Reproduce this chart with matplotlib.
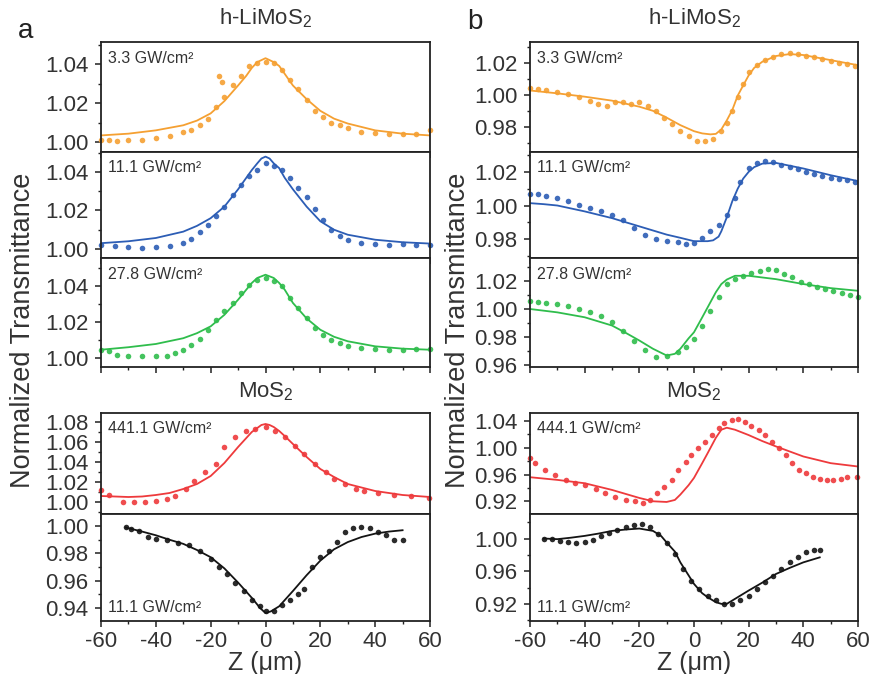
import matplotlib
matplotlib.use("Agg")
import matplotlib.pyplot as plt
from matplotlib.ticker import MultipleLocator, FormatStrFormatter

plt.rcParams['font.family'] = ['Liberation Sans', 'DejaVu Sans']
plt.rcParams['mathtext.fontset'] = 'custom'
plt.rcParams['mathtext.rm'] = 'Liberation Sans'
plt.rcParams['mathtext.default'] = 'regular'
plt.rcParams['axes.unicode_minus'] = False

ORANGE = '#f5a032'
BLUE = '#2c5db5'
GREEN = '#2fbd4c'
RED = '#ee3a3c'
BLACK = '#141414'
TXT = '#333333'

# ---- column a: symmetric (peak / valley) traces ----
a1_z = [-60, -57, -54, -50, -45, -40, -35, -30, -27, -24, -21, -18, -17, -16, -15, -12, -9, -6, -3, 0,
        3, 6, 9, 12, 15, 18, 21, 24, 27, 30, 35, 40, 45, 50, 55, 60]
a1_t = [1.0009, 1.0009, 1.0004, 1.001, 1.0012, 1.002, 1.003, 1.005, 1.006, 1.0086, 1.012, 1.018, 1.034, 1.031,
        1.023, 1.029, 1.034, 1.039, 1.0405, 1.041, 1.0405, 1.037, 1.032, 1.027, 1.0216, 1.016, 1.013, 1.010,
        1.0086, 1.007, 1.005, 1.0047, 1.004, 1.004, 1.004, 1.006]
a1_fz = [-60, -50, -40, -30, -25, -20, -15, -10, -7, -5, -3, 0, 3, 5, 7, 10, 15, 20, 25, 30, 40, 50, 60]
a1_ft = [1.0034, 1.0043, 1.006, 1.0086, 1.011, 1.0147, 1.021, 1.029, 1.034, 1.038, 1.041, 1.043, 1.041,
         1.039, 1.035, 1.029, 1.022, 1.016, 1.012, 1.0095, 1.006, 1.0043, 1.0034]

a2_z = [-60, -55, -50, -45, -40, -35, -30, -27, -24, -21, -18, -15, -12, -9, -6, -3, 0, 3, 6, 9, 12, 15,
        18, 21, 24, 27, 30, 35, 40, 45, 50, 55, 60]
a2_t = [1.0023, 1.0014, 1.001, 1.0005, 1.001, 1.0017, 1.003, 1.005, 1.009, 1.0126, 1.017, 1.022, 1.028,
        1.033, 1.0377, 1.041, 1.0447, 1.043, 1.041, 1.037, 1.0317, 1.027, 1.021, 1.015, 1.010, 1.0066,
        1.0045, 1.003, 1.0028, 1.0023, 1.0026, 1.0023, 1.0023]
a2_fz = [-60, -50, -40, -30, -25, -20, -15, -10, -7, -5, -3, -1.5, 0, 1.5, 3, 5, 7, 10, 15, 20, 25, 30,
         40, 50, 60]
a2_ft = [1.003, 1.004, 1.0057, 1.009, 1.012, 1.016, 1.022, 1.031, 1.037, 1.041, 1.0445, 1.047, 1.048,
         1.047, 1.0445, 1.042, 1.037, 1.031, 1.022, 1.0144, 1.010, 1.0074, 1.0048, 1.0035, 1.0028]

a3_z = [-60, -57, -54, -50, -45, -40, -36, -33, -30, -27, -24, -21, -18, -15, -12, -9, -6, -3, 0, 3, 6,
        9, 12, 15, 18, 21, 24, 27, 30, 35, 40, 45, 50, 55, 60]
a3_t = [1.0046, 1.0037, 1.0019, 1.0013, 1.0009, 1.0009, 1.0013, 1.0028, 1.0046, 1.0074, 1.0106, 1.0157,
        1.0213, 1.026, 1.0306, 1.036, 1.0407, 1.0435, 1.0444, 1.0426, 1.040, 1.0333, 1.0278, 1.022, 1.0167,
        1.013, 1.010, 1.0083, 1.0065, 1.0056, 1.005, 1.0046, 1.0043, 1.005, 1.005]
a3_fz = [-60, -50, -40, -30, -25, -20, -15, -10, -7, -5, -3, 0, 3, 5, 7, 10, 15, 20, 25, 30, 40, 50, 60]
a3_ft = [1.0046, 1.006, 1.0078, 1.011, 1.0138, 1.0176, 1.024, 1.0324, 1.038, 1.0417, 1.0445, 1.0463,
         1.0445, 1.0417, 1.038, 1.0306, 1.022, 1.0157, 1.0118, 1.0093, 1.0065, 1.0052, 1.0046]

a4_z = [-60, -57, -52, -48, -44, -40, -36, -33, -29, -26, -22, -18, -15, -11, -7, -4, 0, 3.5, 7, 10.7,
        14, 18, 22, 25, 29, 33, 36, 41, 47, 53, 59.5]
a4_t = [1.012, 1.007, 1.000, 1.000, 1.000, 1.001, 1.003, 1.006, 1.013, 1.021, 1.030, 1.038, 1.055, 1.065,
        1.071, 1.073, 1.075, 1.071, 1.065, 1.056, 1.048, 1.038, 1.030, 1.023, 1.018, 1.013, 1.011, 1.009,
        1.007, 1.006, 1.004]
a4_fz = [-60, -55, -50, -45, -40, -35, -30, -25, -20, -15, -10, -7, -5, -3, -1.5, 0, 1.5, 3, 5, 7, 10,
         15, 20, 25, 30, 40, 50, 60]
a4_ft = [1.006, 1.0055, 1.005, 1.0055, 1.007, 1.009, 1.013, 1.018, 1.026, 1.039, 1.055, 1.064, 1.070,
         1.074, 1.077, 1.078, 1.077, 1.075, 1.071, 1.066, 1.058, 1.045, 1.033, 1.025, 1.018, 1.011,
         1.007, 1.005]

a5_z = [-51, -49, -46, -43, -40, -36, -32, -28, -24, -20, -17, -14, -11, -8, -5, -2, 0, 3, 6, 9, 12, 14,
        17, 20, 23, 26, 29, 32, 35, 38, 41, 44, 47, 50]
a5_t = [0.999, 0.998, 0.9965, 0.992, 0.9908, 0.9896, 0.9876, 0.9859, 0.982, 0.976, 0.970, 0.9648, 0.9586,
        0.9524, 0.946, 0.9412, 0.9375, 0.938, 0.9424, 0.946, 0.950, 0.9536, 0.9697, 0.9772, 0.982, 0.9883,
        0.9958, 0.9983, 0.999, 0.9983, 0.9958, 0.9933, 0.9896, 0.9896]
a5_fz = [-51, -45, -40, -35, -30, -25, -20, -15, -10, -5, -2, 0, 2, 5, 10, 15, 20, 25, 30, 35, 40, 45, 50]
a5_ft = [0.999, 0.996, 0.9933, 0.990, 0.987, 0.9825, 0.9772, 0.969, 0.9586, 0.9474, 0.940, 0.9362,
         0.9375, 0.9412, 0.9524, 0.964, 0.9747, 0.983, 0.9883, 0.992, 0.9945, 0.996, 0.997]

# ---- column b: valley-peak traces ----
b1_z = [-60, -57, -54, -50, -46, -42, -38, -35, -32, -29, -26, -23, -20, -17, -14, -11, -8, -5, -2, 1,
        4, 7, 10, 12, 14, 16, 18, 20, 23, 26, 29, 32, 35, 38, 41, 44, 47, 50, 53, 56, 59]
b1_t = [1.0045, 1.004, 1.003, 1.0017, 1.0006, 0.9985, 0.9964, 0.9943, 0.9932, 0.9953, 0.9953, 0.994,
        0.9953, 0.9932, 0.990, 0.9857, 0.9815, 0.9772, 0.974, 0.9713, 0.9709, 0.972, 0.9772, 0.9826,
        0.990, 0.9985, 1.007, 1.0145, 1.0187, 1.0219, 1.024, 1.0257, 1.0262, 1.026, 1.0245, 1.0236,
        1.0223, 1.0215, 1.020, 1.0194, 1.018]
b1_fz = [-60, -50, -40, -30, -20, -15, -10, -5, 0, 3, 6, 8, 10, 12, 14, 16, 18, 20, 22, 25, 30, 35, 40,
         50, 60]
b1_ft = [1.0028, 1.001, 0.9989, 0.9964, 0.9926, 0.990, 0.9857, 0.981, 0.9772, 0.9758, 0.9752, 0.9755,
         0.9783, 0.984, 0.9905, 0.9996, 1.006, 1.0123, 1.017, 1.0209, 1.0245, 1.0257, 1.0251, 1.0219, 1.0187]

b2_z = [-60, -57, -54, -50, -46, -42, -38, -34, -30, -26, -22, -18, -14, -10, -6, -3, 0, 3, 6, 9, 12,
        15, 17, 20, 23, 26, 29, 32, 35, 38, 41, 44, 47, 50, 53, 56, 59]
b2_t = [1.0067, 1.0067, 1.0059, 1.0043, 1.0027, 1.0004, 0.9984, 0.9969, 0.9945, 0.9916, 0.9867, 0.9827,
        0.9798, 0.9788, 0.9784, 0.9769, 0.9778, 0.9808, 0.9847, 0.9886, 0.9945, 1.0043, 1.0141, 1.022,
        1.025, 1.0263, 1.0259, 1.0243, 1.0229, 1.0214, 1.020, 1.019, 1.0176, 1.0165, 1.0157, 1.0151, 1.0141]
b2_fz = [-60, -55, -50, -40, -30, -20, -10, -5, 0, 5, 7, 9, 10, 12, 14, 16, 18, 20, 22, 25, 30, 40, 50, 60]
b2_ft = [1.0014, 1.0008, 1.0, 0.9965, 0.9925, 0.9876, 0.9827, 0.9808, 0.9788, 0.9788, 0.9793, 0.9815,
         0.9847, 0.993, 1.0025, 1.010, 1.016, 1.020, 1.0228, 1.0249, 1.0253, 1.022, 1.018, 1.0145]

b3_z = [-60, -57, -54, -50, -46, -42, -38, -34, -30, -26, -22, -18, -14, -10, -6, -3, 0, 3, 6, 9, 12,
        15, 18, 21, 24, 27, 30, 33, 36, 39, 42, 45, 48, 51, 54, 57, 60]
b3_t = [1.0059, 1.0047, 1.004, 1.0036, 1.0024, 1.0, 0.9976, 0.9953, 0.9905, 0.9846, 0.9775, 0.9704,
        0.9656, 0.9661, 0.9692, 0.9727, 0.9787, 0.9882, 0.9988, 1.0083, 1.0178, 1.0213, 1.0237, 1.0254,
        1.0273, 1.0284, 1.0277, 1.0249, 1.023, 1.019, 1.0178, 1.0154, 1.0142, 1.0126, 1.0111, 1.0102, 1.0088]
b3_fz = [-60, -50, -40, -30, -25, -20, -15, -10, -7, -5, -2, 0, 3, 5, 8, 10, 12, 15, 20, 30, 40, 50, 60]
b3_ft = [1.0, 0.9976, 0.9941, 0.9882, 0.983, 0.9775, 0.9716, 0.9668, 0.968, 0.9716, 0.979, 0.9834,
         0.994, 1.0012, 1.012, 1.0178, 1.021, 1.0237, 1.0237, 1.0213, 1.0178, 1.0149, 1.013]

b4_z = [-60, -58, -54.5, -51, -47, -43.5, -40, -36, -32.5, -29, -25, -21.6, -18.5, -16, -13.7, -11, -8,
        -6, -3, -1, 1.6, 4, 6.5, 9, 11, 13.8, 16, 18.7, 21, 23.7, 26, 28.6, 31, 33.6, 36, 38.5, 41, 43.6,
        46, 48.7, 51, 53.6, 56, 59.5]
b4_t = [0.9845, 0.977, 0.967, 0.960, 0.952, 0.947, 0.945, 0.939, 0.932, 0.926, 0.922, 0.920, 0.917, 0.922,
        0.932, 0.942, 0.952, 0.967, 0.979, 0.989, 0.9998, 1.009, 1.019, 1.029, 1.037, 1.042, 1.043, 1.039,
        1.032, 1.027, 1.019, 1.009, 0.9994, 0.989, 0.977, 0.967, 0.962, 0.957, 0.954, 0.952, 0.952, 0.954,
        0.956, 0.957]
b4_fz = [-60, -50, -40, -30, -20, -15, -10, -7, -5, -2, 0, 3, 5, 8, 10, 12, 15, 20, 25, 30, 40, 50, 60]
b4_ft = [0.956, 0.952, 0.947, 0.937, 0.925, 0.920, 0.919, 0.922, 0.930, 0.944, 0.955, 0.977, 0.992, 1.015,
         1.027, 1.030, 1.027, 1.019, 1.010, 1.002, 0.987, 0.977, 0.972]

b5_z = [-55, -52, -49, -46, -43, -40, -37, -34, -31, -28, -25, -22, -19, -16, -13, -10, -7, -4, -1, 2,
        5, 8, 11, 14, 17, 20, 23, 26, 29, 32, 35, 38, 41, 44, 46]
b5_t = [1.0, 0.9992, 0.9972, 0.996, 0.9951, 0.9955, 0.9984, 1.0032, 1.0073, 1.0106, 1.0146, 1.0162,
        1.0175, 1.0146, 1.0053, 0.9951, 0.9809, 0.9626, 0.9484, 0.9383, 0.9302, 0.9241, 0.920, 0.920,
        0.9241, 0.9302, 0.9383, 0.9464, 0.9545, 0.9626, 0.9708, 0.9769, 0.983, 0.9858, 0.9862]
b5_fz = [-55, -50, -45, -40, -35, -30, -25, -20, -15, -12, -10, -7, -5, -2, 0, 3, 5, 8, 10, 12, 15, 20,
         25, 30, 35, 40, 46]
b5_ft = [1.0, 0.9992, 1.001, 1.0032, 1.006, 1.0093, 1.011, 1.0122, 1.0093, 1.003, 0.9951, 0.984, 0.9708,
         0.955, 0.9444, 0.933, 0.9281, 0.922, 0.920, 0.920, 0.9261, 0.9363, 0.946, 0.9566, 0.964, 0.9708,
         0.9769]

intensities_a = ['3.3 GW/cm²', '11.1 GW/cm²', '27.8 GW/cm²', '441.1 GW/cm²', '11.1 GW/cm²']
intensities_b = ['3.3 GW/cm²', '11.1 GW/cm²', '27.8 GW/cm²', '444.1 GW/cm²', '11.1 GW/cm²']
colors = [ORANGE, BLUE, GREEN, RED, BLACK]

col_a = [(a1_z, a1_t, a1_fz, a1_ft), (a2_z, a2_t, a2_fz, a2_ft), (a3_z, a3_t, a3_fz, a3_ft),
         (a4_z, a4_t, a4_fz, a4_ft), (a5_z, a5_t, a5_fz, a5_ft)]
col_b = [(b1_z, b1_t, b1_fz, b1_ft), (b2_z, b2_t, b2_fz, b2_ft), (b3_z, b3_t, b3_fz, b3_ft),
         (b4_z, b4_t, b4_fz, b4_ft), (b5_z, b5_t, b5_fz, b5_ft)]

# y range, major step, minor step per panel
ylims_a = [((0.9949, 1.0513), 0.02, 0.01), ((0.9953, 1.0504), 0.02, 0.01), ((0.995, 1.0556), 0.02, 0.01),
           ((0.988, 1.089), 0.02, 0.01), ((0.9304, 1.0089), 0.02, 0.01)]
ylims_b = [((0.9641, 1.0333), 0.02, 0.01), ((0.9688, 1.0318), 0.02, 0.01), ((0.9586, 1.0364), 0.02, 0.01),
           ((0.901, 1.052), 0.04, 0.02), ((0.899, 1.030), 0.04, 0.02)]

W, H = 873, 674
fig = plt.figure(figsize=(W / 100, H / 100), dpi=100)

# panel rows in pixels (top, bottom)
rows = [(42, 152), (152, 258), (258, 367), (413, 514), (514, 621)]
columns = [(101, 430), (530, 858)]


def make_panel(x0, x1, top, bot):
    return fig.add_axes([x0 / W, 1 - bot / H, (x1 - x0) / W, (bot - top) / H])


for ci, (col, lims, labels) in enumerate([(col_a, ylims_a, intensities_a), (col_b, ylims_b, intensities_b)]):
    x0, x1 = columns[ci]
    for ri, ((z, t, fz, ft), (ylim, major, minor), lab, c) in enumerate(zip(col, lims, labels, colors)):
        ax = make_panel(x0, x1, *rows[ri])
        ax.plot(z, t, 'o', color=c, ms=4, mec='none', alpha=0.9, clip_on=False)
        ax.plot(fz, ft, '-', color=c, lw=1.3)
        ax.set_xlim(-60, 60)
        ax.set_ylim(*ylim)
        ax.xaxis.set_major_locator(MultipleLocator(20))
        ax.xaxis.set_minor_locator(MultipleLocator(10))
        ax.yaxis.set_major_locator(MultipleLocator(major))
        ax.yaxis.set_minor_locator(MultipleLocator(minor))
        ax.yaxis.set_major_formatter(FormatStrFormatter('%.2f'))
        ax.tick_params(which='major', direction='out', length=4, width=1.1, color='#222222',
                       labelsize=16, labelcolor=TXT, pad=5)
        ax.tick_params(which='minor', direction='out', length=2.5, width=1.0, color='#222222')
        ax.tick_params(axis='x', pad=3)
        if ri < 4:
            ax.tick_params(axis='x', labelbottom=False)
        for s in ax.spines.values():
            s.set_linewidth(1.3)
            s.set_color('#222222')
        if ri < 4:
            ax.text(0.022, 0.92, lab, transform=ax.transAxes, ha='left', va='top',
                    fontsize=11.5, color=TXT)
        else:
            ax.text(0.022, 0.06, lab, transform=ax.transAxes, ha='left', va='bottom',
                    fontsize=11.5, color=TXT)

    xc = (x0 + x1) / 2 / W
    fig.text(xc, 1 - 24 / H, 'h-LiMoS$_2$', ha='center', va='baseline', fontsize=16, color=TXT)
    fig.text(xc, 1 - 397 / H, 'MoS$_2$', ha='center', va='baseline', fontsize=16, color=TXT)
    fig.text(xc, 1 - 663 / H, 'Z (μm)', ha='center', va='center', fontsize=18, color=TXT)

fig.text(23 / W, 1 - 330 / H, 'Normalized Transmittance', rotation=90, ha='center', va='center',
         fontsize=19.5, color=TXT)
fig.text(458 / W, 1 - 330 / H, 'Normalized Transmittance', rotation=90, ha='center', va='center',
         fontsize=19.5, color=TXT)
fig.text(26 / W, 1 - 31 / H, 'a', ha='center', va='center', fontsize=20, color='#222222')
fig.text(475 / W, 1 - 22 / H, 'b', ha='center', va='center', fontsize=20, color='#222222')

fig.savefig('out.png', dpi=100)
